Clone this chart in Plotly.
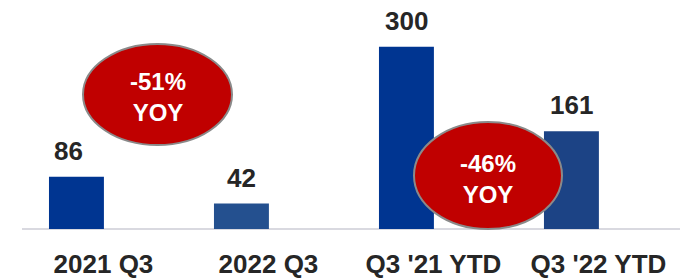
import plotly.graph_objects as go

categories = ["2021 Q3", "2022 Q3", "Q3 '21 YTD", "Q3 '22 YTD"]
values = [86, 42, 300, 161]
bar_colors = ["#003591", "#24508F", "#003591", "#1C4385"]
badges = ["-51%<br>YOY", "-46%<br>YOY"]

OFF = 8  # page body margin
W, H = 692 - OFF, 279 - OFF
ml, mr, mt, mb = 22 - OFF, 12, 0, 50
pw, ph = W - ml - mr, H - mt - mb
FONT = "Liberation Sans, Arial"
label_xshift = [-8, 0, 0, 0]

xs = list(range(len(categories)))
fig = go.Figure()
fig.add_trace(go.Bar(
    x=xs, y=values,
    marker=dict(color=bar_colors, line=dict(width=0)),
    width=0.333,
))
for x, v, dx in zip(xs, values, label_xshift):
    fig.add_annotation(x=x, y=v, xref="x", yref="y", text="<b>%d</b>" % v,
                       showarrow=False, xanchor="center", yanchor="bottom",
                       yshift=9, xshift=dx,
                       font=dict(family=FONT, size=26, color="#262626"))

def px2paper(x, y):
    x -= OFF
    y -= OFF
    return (x - ml) / pw, 1 - (y - mt) / ph

ellipses = [((83, 44, 232, 145), badges[0]), ((414, 122, 562, 229), badges[1])]
for (x0, y0, x1, y1), txt in ellipses:
    a0, b1 = px2paper(x0, y0)
    a1, b0 = px2paper(x1, y1)
    fig.add_shape(type="circle", xref="paper", yref="paper",
                  x0=a0, x1=a1, y0=b0, y1=b1,
                  fillcolor="#C00000", line=dict(color="#8a8a8a", width=2),
                  layer="above")
    fig.add_annotation(xref="paper", yref="paper", x=(a0 + a1) / 2, y=(b0 + b1) / 2,
                       xanchor="center", yanchor="middle", yshift=-3,
                       text="<b>" + txt.replace("<br>", "</b><br><b>") + "</b>",
                       showarrow=False,
                       font=dict(family=FONT, size=24, color="white"),
                       align="center")

fig.add_shape(type="line", xref="paper", yref="paper", x0=0, x1=1, y0=0, y1=0,
              line=dict(color="#d9d9e0", width=2), layer="below")

fig.update_layout(
    width=W, height=H,
    margin=dict(l=ml, r=mr, t=mt, b=mb),
    paper_bgcolor="white", plot_bgcolor="white",
    showlegend=False,
    xaxis=dict(range=[-0.33, 3.658], tickmode="array",
               tickvals=xs, ticktext=["<b>" + c + "</b>" for c in categories],
               showgrid=False, zeroline=False, showline=False,
               tickfont=dict(family=FONT, size=26, color="#262626"),
               ticks="", ticklen=0, automargin=False,
               ticklabelshift=27, ticklabelstandoff=17),
    yaxis=dict(range=[0, 364], visible=False, showgrid=False, zeroline=False),
)

fig.write_html("out.html")
